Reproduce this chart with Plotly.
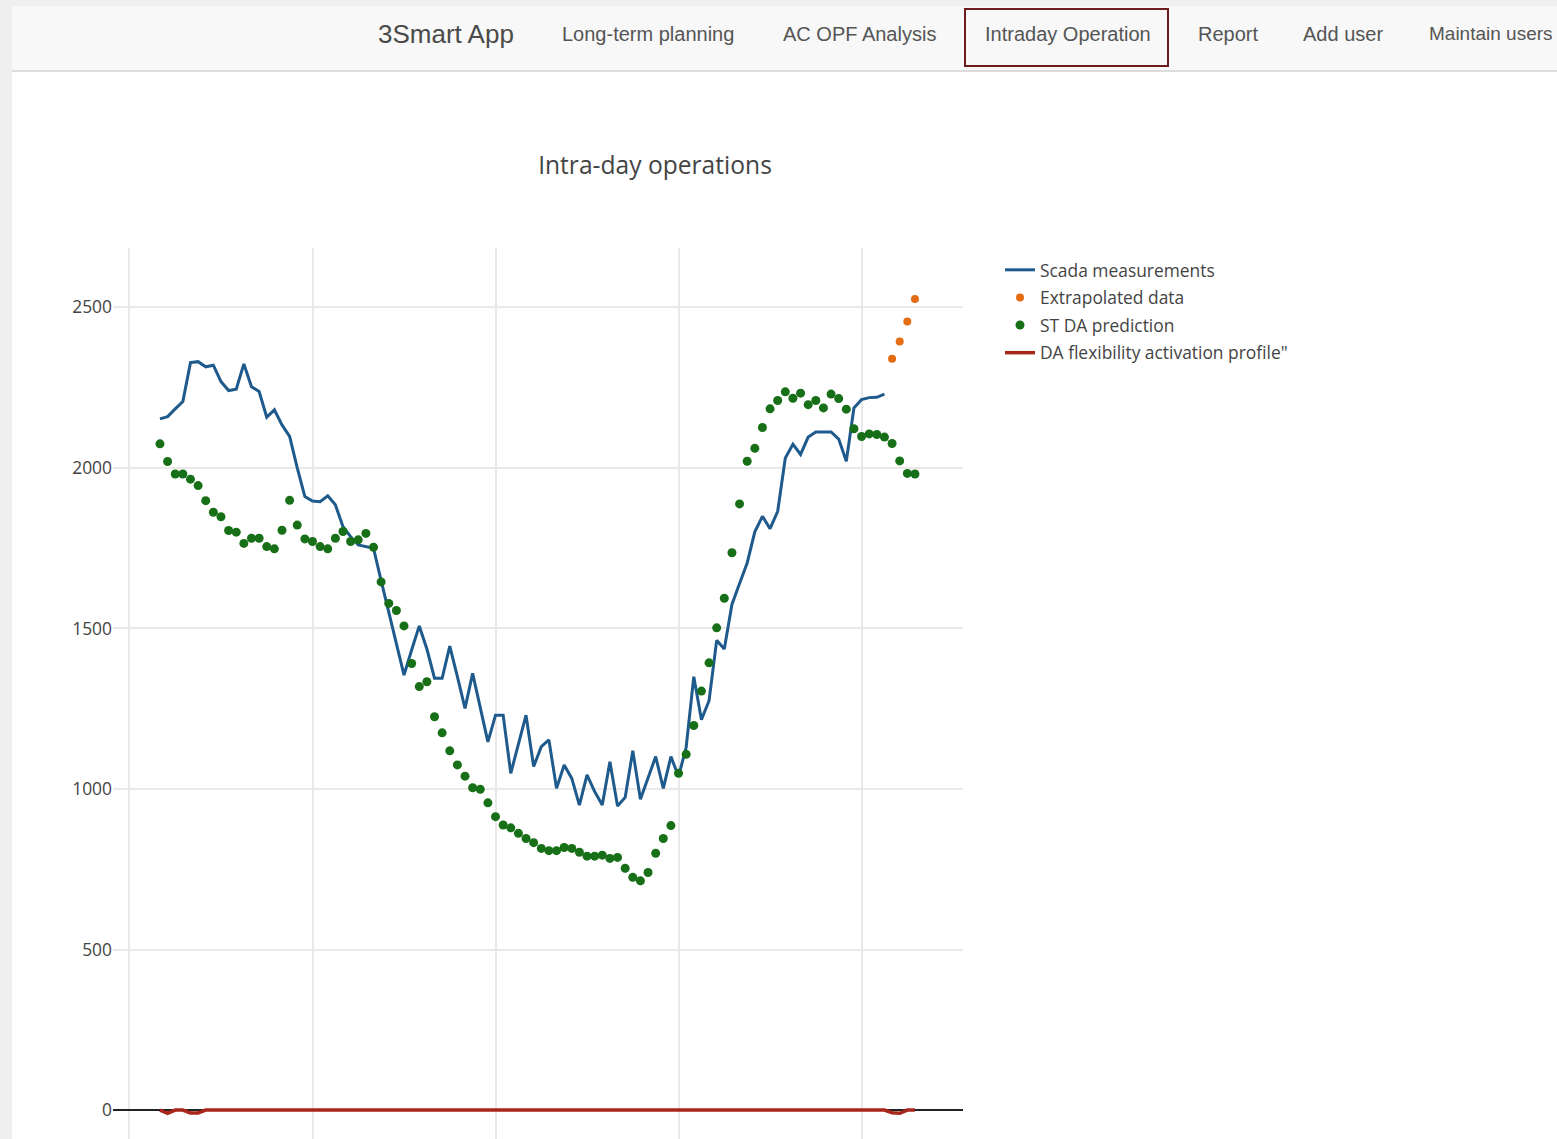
import pandas as pd
import plotly.graph_objects as go

# ---------------- data ----------------
time_start = "2019-05-20 01:00"

scada_measurements = [
    2153, 2160, 2184, 2207, 2328, 2331, 2315, 2320, 2269, 2241,
    2245, 2324, 2253, 2238, 2158, 2181, 2134, 2098, 2000, 1911,
    1897, 1895, 1913, 1885, 1817, 1786, 1760, 1755, 1750, 1649,
    1548, 1449, 1355, 1433, 1508, 1436, 1345, 1345, 1445, 1350,
    1251, 1360, 1256, 1147, 1230, 1230, 1049, 1143, 1230, 1070,
    1132, 1153, 1002, 1075, 1033, 950, 1044, 992, 950, 1085,
    947, 974, 1119, 968, 1038, 1101, 1002, 1101, 1039, 1130,
    1350, 1216, 1275, 1463, 1436, 1575, 1640, 1704, 1801, 1849,
    1811, 1865, 2031, 2074, 2042, 2096, 2112, 2112, 2112, 2090,
    2021, 2187, 2213, 2219, 2220, 2230,
]

st_da_prediction = [
    2075, 2020, 1981, 1981, 1965, 1945, 1898, 1862, 1848, 1805,
    1800, 1765, 1781, 1781, 1755, 1748, 1806, 1899, 1822, 1779,
    1771, 1755, 1748, 1781, 1802, 1771, 1776, 1796, 1753, 1645,
    1578, 1556, 1508, 1391, 1319, 1334, 1225, 1175, 1119, 1075,
    1040, 1004, 999, 957, 914, 888, 879, 862, 846, 833,
    815, 808, 808, 818, 815, 803, 791, 791, 794, 784,
    787, 753, 725, 714, 740, 800, 846, 886, 1049, 1108,
    1198, 1305, 1393, 1502, 1594, 1736, 1888, 2021, 2061, 2126,
    2184, 2210, 2237, 2217, 2233, 2197, 2210, 2187, 2230, 2216,
    2183, 2122, 2098, 2106, 2104, 2096, 2076, 2022, 1983, 1981,
]

extrapolated_data = [2340, 2394, 2456, 2526]

da_flexibility = [
    0, -10, 0, 0, -9, -9, 0, 0, 0, 0,
    0, 0, 0, 0, 0, 0, 0, 0, 0, 0,
    0, 0, 0, 0, 0, 0, 0, 0, 0, 0,
    0, 0, 0, 0, 0, 0, 0, 0, 0, 0,
    0, 0, 0, 0, 0, 0, 0, 0, 0, 0,
    0, 0, 0, 0, 0, 0, 0, 0, 0, 0,
    0, 0, 0, 0, 0, 0, 0, 0, 0, 0,
    0, 0, 0, 0, 0, 0, 0, 0, 0, 0,
    0, 0, 0, 0, 0, 0, 0, 0, 0, 0,
    0, 0, 0, 0, 0, 0, -8, -10, 0, 0,
]

nav_items = ["Long-term planning", "AC OPF Analysis", "Intraday Operation",
             "Report", "Add user", "Maintain users"]
app_name = "3Smart App"

times = pd.date_range(time_start, periods=len(st_da_prediction), freq="15min")
t_scada = times[:len(scada_measurements)]
t_extra = times[len(scada_measurements):len(scada_measurements) + len(extrapolated_data)]

# ---------------- layout helpers ----------------
W, H = 1557, 1139
ML, MR, MT, MB = 113, W - 963, 248, 0
PW, PH = W - ML - MR, H - MT - MB


def px(x):
    return (x - ML) / PW


def py(y):
    return (H - MB - y) / PH


FONT = "Open Sans, Noto Sans, sans-serif"
NAVFONT = "Liberation Sans, Arial, sans-serif"

fig = go.Figure()
fig.add_trace(go.Scatter(x=t_scada, y=scada_measurements, mode="lines",
                         name="Scada measurements", legendgroup="a",
                         line=dict(color="#1f5a8c", width=3)))
fig.add_trace(go.Scatter(x=t_extra, y=extrapolated_data, mode="markers",
                         name="Extrapolated data", legendgroup="b",
                         marker=dict(color="#e46c12", size=8)))
fig.add_trace(go.Scatter(x=times, y=st_da_prediction, mode="markers",
                         name="ST DA prediction", legendgroup="c",
                         marker=dict(color="#177017", size=9)))
fig.add_trace(go.Scatter(x=times, y=da_flexibility, mode="lines",
                         name='DA flexibility activation profile"', legendgroup="d",
                         line=dict(color="#a8261c", width=3.5, shape="linear")))

x_left = pd.Timestamp(time_start) - pd.Timedelta(minutes=92.4)
x_right = pd.Timestamp(time_start) + pd.Timedelta(minutes=1579.5)

fig.update_layout(
    width=W, height=H,
    margin=dict(l=ML, r=MR, t=MT, b=MB, pad=0),
    paper_bgcolor="white", plot_bgcolor="white",
    font=dict(family=FONT, color="#444", size=17.4),
    title=dict(text="Intra-day operations", font=dict(family=FONT, size=24.6, color="#444"),
               x=655 / W, xref="container", xanchor="center",
               y=1 - 165 / H, yref="container", yanchor="middle"),
    legend=dict(x=px(1000), xanchor="left", y=py(252), yanchor="top",
                font=dict(family=FONT, size=17.4, color="#444"),
                traceorder="grouped", tracegroupgap=2,
                bgcolor="rgba(0,0,0,0)"),
    showlegend=True,
    xaxis=dict(type="date", range=[x_left, x_right], showticklabels=False,
               tick0="2019-05-20 00:00", dtick=6 * 3600 * 1000,
               showgrid=True, gridcolor="#e9e9e9", gridwidth=1.5,
               zeroline=False, showline=False, ticks="", automargin=False),
    yaxis=dict(range=[-90, 2685], dtick=500, tick0=0,
               showgrid=True, gridcolor="#e9e9e9", gridwidth=1.5,
               zeroline=True, zerolinecolor="#222", zerolinewidth=2,
               showline=False, ticks="", automargin=False,
               tickfont=dict(family=FONT, size=17.4, color="#444")),
)

# ---------------- app navbar (part of the screenshot) ----------------
shapes = [
    dict(type="rect", xref="paper", yref="paper", x0=px(0), x1=px(W), y0=py(6), y1=py(0),
         fillcolor="#efefef", line=dict(width=0), layer="below"),
    dict(type="rect", xref="paper", yref="paper", x0=px(0), x1=px(12), y0=py(H), y1=py(0),
         fillcolor="#efefef", line=dict(width=0), layer="below"),
    dict(type="rect", xref="paper", yref="paper", x0=px(12), x1=px(W), y0=py(71), y1=py(6),
         fillcolor="#f8f8f8", line=dict(width=0), layer="below"),
    dict(type="line", xref="paper", yref="paper", x0=px(12), x1=px(W), y0=py(71), y1=py(71),
         line=dict(color="#dcdcdc", width=2)),
    dict(type="rect", xref="paper", yref="paper", x0=px(965), x1=px(1168), y0=py(66), y1=py(9),
         line=dict(color="#6b1d1d", width=2), fillcolor="rgba(0,0,0,0)"),
]
fig.update_layout(shapes=shapes)

nav_centers = [648, 859, 1067.5, 1227.5, 1343]
annotations = [dict(text=app_name, xref="paper", yref="paper", x=px(445.5), y=py(34),
                    xanchor="center", yanchor="middle", showarrow=False,
                    font=dict(family=NAVFONT, size=26, color="#4a4a4a"))]
for name, cx in zip(nav_items[:-1], nav_centers):
    annotations.append(dict(text=name, xref="paper", yref="paper", x=px(cx), y=py(34),
                            xanchor="center", yanchor="middle", showarrow=False,
                            font=dict(family=NAVFONT, size=20, color="#555")))
annotations.append(dict(text=nav_items[-1], xref="paper", yref="paper", x=px(1427), y=py(34),
                        xanchor="left", yanchor="middle", showarrow=False,
                        font=dict(family=NAVFONT, size=19, color="#555")))
fig.update_layout(annotations=annotations)

fig.write_html("out.html", config={"displayModeBar": False},
               post_script="document.body.style.margin='0';document.body.style.overflow='hidden';")
